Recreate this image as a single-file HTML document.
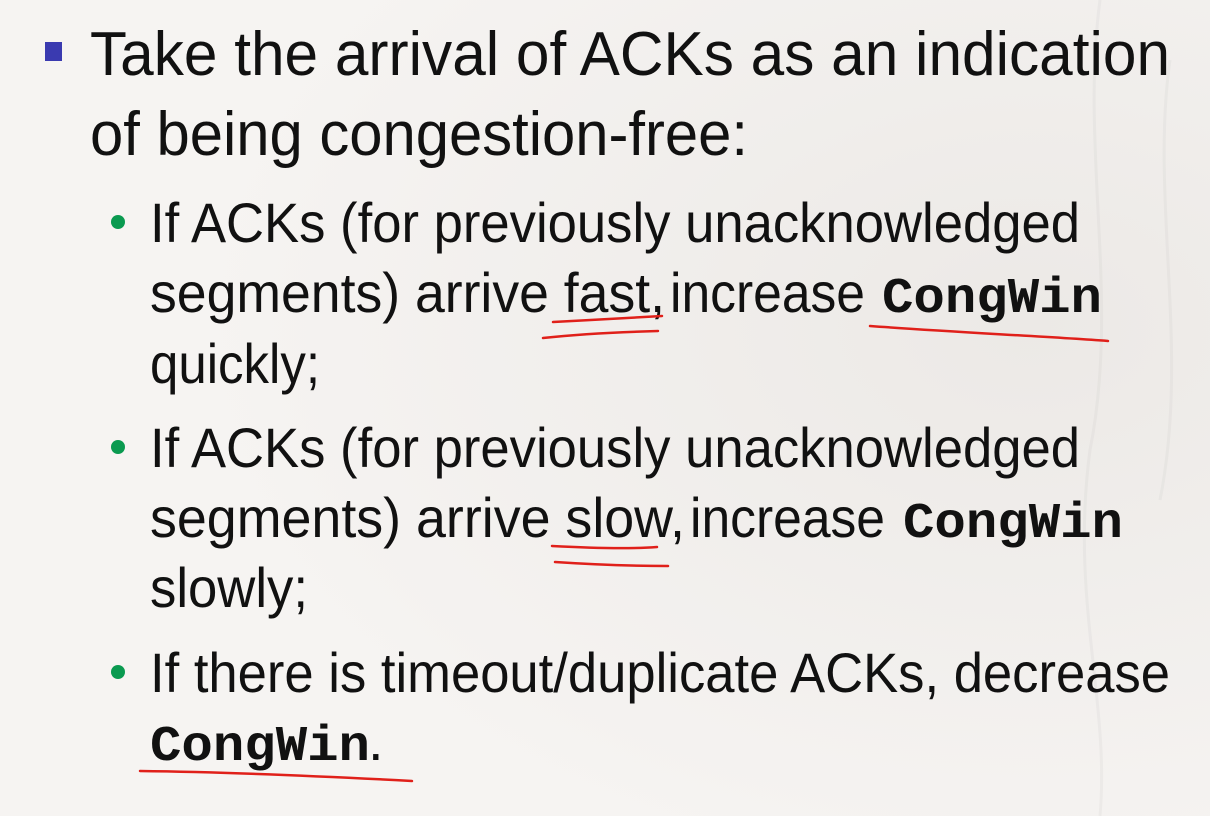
<!DOCTYPE html>
<html><head><meta charset="utf-8"><style>
html,body{margin:0;padding:0;width:1210px;height:816px;overflow:hidden;background:#f5f3f1}
svg{display:block}
.s{font-family:"Liberation Sans",Arial,sans-serif;fill:#111}
.m{font-family:"Liberation Mono","Courier New",monospace;font-weight:bold;fill:#111}
</style></head><body>
<svg width="1210" height="816" viewBox="0 0 1210 816">
<defs><radialGradient id="bg" cx="0.85" cy="0.4" r="0.7"><stop offset="0" stop-color="#ece9e6"/><stop offset="1" stop-color="#f6f4f2"/></radialGradient></defs>
<rect width="1210" height="816" fill="url(#bg)"/>
<g opacity="0.06" stroke="#777" fill="none" stroke-width="3">
<path d="M1100 0 C1080 150 1120 300 1090 450 C1070 600 1110 700 1100 816"/>
<path d="M1170 60 C1150 200 1190 350 1160 500"/>
</g>
<rect x="45" y="42" width="17" height="19" fill="#3a3ab0"/>
<text class="s" x="90" y="75" font-size="62" textLength="1080" lengthAdjust="spacingAndGlyphs">Take the arrival of ACKs as an indication</text>
<text class="s" x="90" y="155" font-size="62" textLength="658" lengthAdjust="spacingAndGlyphs">of being congestion-free:</text>

<circle cx="118" cy="222" r="7" fill="#0a9a50"/>
<text class="s" x="150" y="242" font-size="56" textLength="930" lengthAdjust="spacingAndGlyphs">If ACKs (for previously unacknowledged</text>
<text class="s" x="150" y="312" font-size="56" textLength="515" lengthAdjust="spacingAndGlyphs">segments) arrive fast,</text>
<text class="s" x="670" y="312" font-size="56" textLength="195" lengthAdjust="spacingAndGlyphs">increase</text>
<text class="m" x="882" y="312" font-size="50" textLength="220" lengthAdjust="spacingAndGlyphs">CongWin</text>
<text class="s" x="150" y="383" font-size="56" textLength="170" lengthAdjust="spacingAndGlyphs">quickly;</text>

<circle cx="118" cy="447" r="7" fill="#0a9a50"/>
<text class="s" x="150" y="467" font-size="56" textLength="930" lengthAdjust="spacingAndGlyphs">If ACKs (for previously unacknowledged</text>
<text class="s" x="150" y="537" font-size="56" textLength="535" lengthAdjust="spacingAndGlyphs">segments) arrive slow,</text>
<text class="s" x="690" y="537" font-size="56" textLength="195" lengthAdjust="spacingAndGlyphs">increase</text>
<text class="m" x="903" y="537" font-size="50" textLength="220" lengthAdjust="spacingAndGlyphs">CongWin</text>
<text class="s" x="150" y="607" font-size="56" textLength="158" lengthAdjust="spacingAndGlyphs">slowly;</text>

<circle cx="118" cy="672" r="7" fill="#0a9a50"/>
<text class="s" x="150" y="692" font-size="56" textLength="1020" lengthAdjust="spacingAndGlyphs">If there is timeout/duplicate ACKs, decrease</text>
<text class="m" x="150" y="760" font-size="50" textLength="220" lengthAdjust="spacingAndGlyphs">CongWin</text>
<text class="s" x="368" y="760" font-size="56">.</text>

<g stroke="#e0201a" stroke-width="2.5" fill="none" stroke-linecap="round">
<path d="M553 322 C590 320 630 318 662 316"/>
<path d="M543 338 C580 334 620 332 658 331"/>
<path d="M870 326 C950 332 1040 336 1108 341"/>
<path d="M552 546 C590 548 630 549 657 547"/>
<path d="M555 562 C600 565 640 566 668 566"/>
<path d="M140 771 C220 772 320 776 412 781"/>
</g>
</svg>
</body></html>
